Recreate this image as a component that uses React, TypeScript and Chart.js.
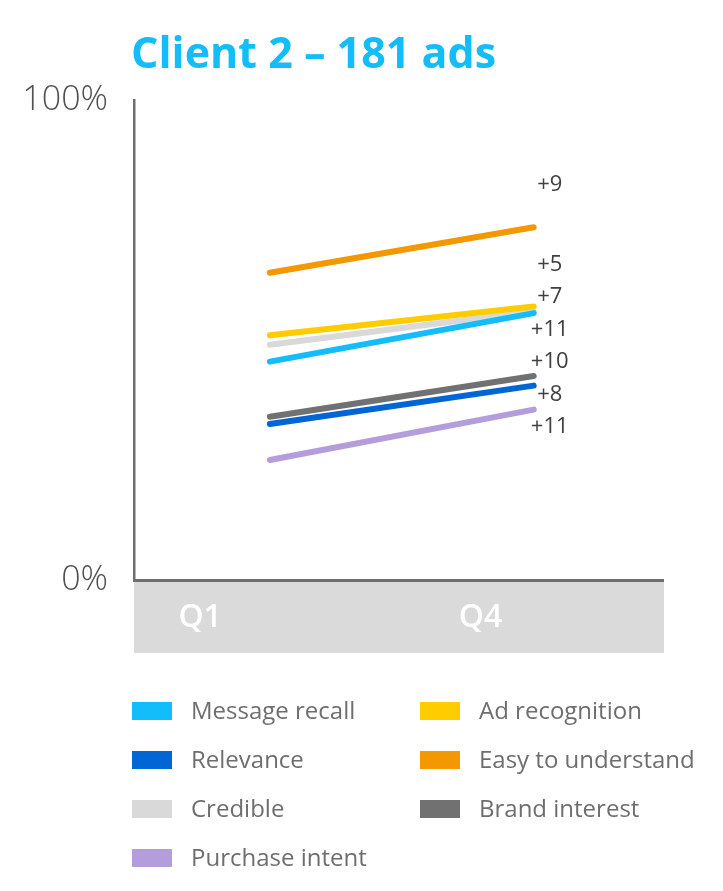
import React, { useEffect, useRef } from "react";
import { Chart, registerables } from "chart.js";

Chart.register(...registerables);

const categories = ["Q1", "Q4"];
const seriesNames = [
  "Message recall",
  "Ad recognition",
  "Relevance",
  "Easy to understand",
  "Credible",
  "Brand interest",
  "Purchase intent",
];
const messageRecall = [45.5, 55.6];
const adRecognition = [51, 57];
const relevance = [32.5, 40.5];
const easyToUnderstand = [64, 73.5];
const credible = [49, 56];
const brandInterest = [34, 42.5];
const purchaseIntent = [25, 35.5];
const changeLabels = ["+11", "+5", "+8", "+9", "+7", "+10", "+11"];
const yTicks = [0, 100];
const titleText = "Client 2 – 181 ads";

const colors = ["#12BDF9", "#FFCC00", "#0066D6", "#F39800", "#D9D9D9", "#717171", "#B39DDB"];

const overlay = {
  id: "overlay",
  beforeDraw(chart: any) {
    const { ctx, chartArea } = chart;
    ctx.save();
    ctx.fillStyle = "#ffffff";
    ctx.fillRect(0, 0, chart.width, chart.height);
    ctx.fillStyle = "#DADADA";
    ctx.fillRect(chartArea.left, chartArea.bottom + 1, chartArea.right - chartArea.left + 1, 72);
    ctx.restore();
  },
  afterDraw(chart: any) {
    const { ctx, chartArea } = chart;
    const w = chartArea.right - chartArea.left;
    ctx.save();
    // title
    ctx.fillStyle = "#12BDF9";
    ctx.font = "bold 43px 'Open Sans'";
    ctx.textAlign = "left";
    ctx.textBaseline = "alphabetic";
    ctx.fillText(titleText, 131, 68);
    // category labels in band
    ctx.fillStyle = "#ffffff";
    ctx.font = "600 32px 'Open Sans'";
    ctx.textAlign = "center";
    ctx.textBaseline = "middle";
    const fr = [0.125, 0.655];
    categories.forEach((c, i) => {
      ctx.fillText(c, chartArea.left + fr[i] * w, chartArea.bottom + 38);
    });
    // change labels
    const ys = chart.scales.y;
    const xs = chart.scales.x;
    const last = categories.length - 1;
    const idx = chart.data.datasets.map((_: any, i: number) => i);
    idx.sort((a: number, b: number) => chart.data.datasets[b].data[last].y - chart.data.datasets[a].data[last].y);
    let prev = -Infinity;
    ctx.fillStyle = "#404040";
    ctx.font = "22px 'Open Sans'";
    idx.forEach((i: number) => {
      const v = chart.data.datasets[i].data[last].y;
      const y = Math.max(prev + 32.5, ys.getPixelForValue(v) - 42);
      prev = y;
      ctx.fillText(changeLabels[i], xs.getPixelForValue(last) + 16, y);
    });
    // legend
    ctx.font = "24px 'Open Sans'";
    ctx.textAlign = "left";
    chart.data.datasets.forEach((ds: any, i: number) => {
      const col = i % 2;
      const row = Math.floor(i / 2);
      const bx = col === 0 ? 132 : 420;
      const cy = 711 + row * 49;
      ctx.fillStyle = ds.borderColor;
      ctx.fillRect(bx, cy - 9, 40, 18);
      ctx.fillStyle = "#6e6e6e";
      ctx.fillText(ds.label, bx + 59, cy + 1);
    });
    ctx.restore();
  },
};

export default function App() {
  const ref = useRef<HTMLCanvasElement>(null);
  useEffect(() => {
    document.body.style.margin = "0";
    const series = [messageRecall, adRecognition, relevance, easyToUnderstand, credible, brandInterest, purchaseIntent];
    const chart = new Chart(ref.current!, {
      type: "line",
      data: {
        datasets: series.map((d, i) => ({
          label: seriesNames[i],
          data: d.map((v, j) => ({ x: j, y: v })),
          borderColor: colors[i],
          backgroundColor: colors[i],
          borderWidth: 6,
          borderCapStyle: "round" as const,
          pointRadius: 0,
          fill: false,
        })),
      },
      options: {
        responsive: false,
        animation: false,
        layout: { padding: { top: 100, right: 60, left: 0, bottom: 0 } },
        plugins: { legend: { display: false }, title: { display: false }, tooltip: { enabled: false } },
        scales: {
          x: {
            type: "linear",
            min: -0.515,
            max: 1.49,
            grid: { display: false },
            border: { display: true, color: "#6e6e6e", width: 3 },
            ticks: { display: false },
            afterFit: (s: any) => {
              s.height = 311;
            },
          },
          y: {
            min: 0,
            max: 100,
            afterBuildTicks: (s: any) => {
              s.ticks = yTicks.map((v) => ({ value: v }));
            },
            grid: { display: false },
            border: { display: true, color: "#6e6e6e", width: 2.5 },
            ticks: {
              padding: 18,
              color: "#505050",
              font: { family: "'Open Sans'", size: 34, weight: 300 as any },
              callback: (v: any) => v + "%",
            },
            afterFit: (s: any) => {
              s.width = 134;
            },
          },
        },
      },
      plugins: [overlay],
    });
    return () => chart.destroy();
  }, []);
  return <canvas ref={ref} width={723} height={891} style={{ display: "block" }} />;
}
